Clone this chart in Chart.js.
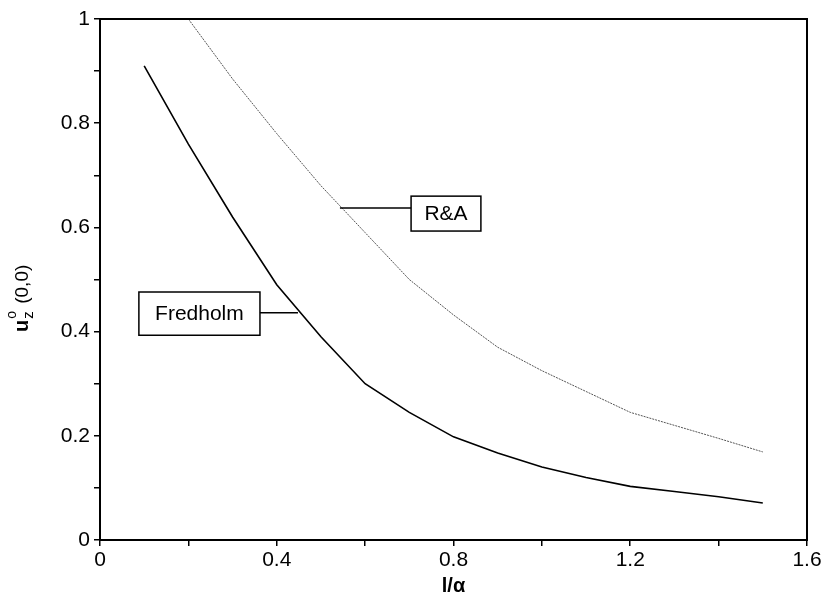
<!DOCTYPE html>
<html>
<head>
<meta charset="utf-8">
<script src="https://cdn.jsdelivr.net/npm/chart.js@4.4.1/dist/chart.umd.min.js"></script>
<style>
  html, body { margin: 0; padding: 0; background: #fff; }
  #wrap { width: 828px; height: 598px; }
</style>
</head>
<body>
<div id="wrap"><canvas id="plot"></canvas></div>
<script>
// values
const fredholmX = [0.1, 0.2, 0.3, 0.4, 0.5, 0.6, 0.7, 0.8, 0.9, 1.0, 1.1, 1.2, 1.3, 1.4, 1.5];
const fredholmY = [0.91, 0.76, 0.62, 0.49, 0.39, 0.30, 0.245, 0.198, 0.167, 0.14, 0.12, 0.103, 0.093, 0.083, 0.071];
const raX = [0.2, 0.3, 0.4, 0.5, 0.6, 0.7, 0.8, 0.9, 1.0, 1.1, 1.2, 1.3, 1.4, 1.5];
const raY = [1.0, 0.885, 0.78, 0.68, 0.59, 0.50, 0.432, 0.37, 0.325, 0.285, 0.245, 0.22, 0.195, 0.169];
const xTickLabels = [0, 0.4, 0.8, 1.2, 1.6];
const yTickLabels = [0, 0.2, 0.4, 0.6, 0.8, 1];

const FONT = "'Liberation Sans', Arial, Helvetica, sans-serif";

// label boxes (in data units) with their leader lines
const callouts = [
    { text: 'R&A', box: [0.704, 0.660, 0.862, 0.593], leader: [0.543, 0.637, 0.704, 0.637] },
    { text: 'Fredholm', box: [0.088, 0.476, 0.362, 0.393], leader: [0.362, 0.436, 0.448, 0.436] }
];

const toPts = (xs, ys) => xs.map((x, i) => ({ x: x, y: ys[i] }));

const decor = {
    id: 'decor',
    afterDraw(chart) {
        const ctx = chart.ctx;
        const a = chart.chartArea;
        const xs = chart.scales.x, ys = chart.scales.y;
        ctx.save();
        // frame
        ctx.strokeStyle = '#000';
        ctx.lineWidth = 2;
        ctx.strokeRect(a.left, a.top, a.right - a.left, a.bottom - a.top);

        // callouts
        ctx.lineWidth = 1.5;
        ctx.font = '21px ' + FONT;
        ctx.fillStyle = '#000';
        ctx.textAlign = 'center';
        ctx.textBaseline = 'middle';
        callouts.forEach(c => {
            const x0 = xs.getPixelForValue(c.box[0]), y0 = ys.getPixelForValue(c.box[1]);
            const x1 = xs.getPixelForValue(c.box[2]), y1 = ys.getPixelForValue(c.box[3]);
            ctx.fillStyle = '#fff';
            ctx.fillRect(x0, y0, x1 - x0, y1 - y0);
            ctx.strokeRect(x0, y0, x1 - x0, y1 - y0);
            ctx.fillStyle = '#000';
            ctx.fillText(c.text, (x0 + x1) / 2, (y0 + y1) / 2 + 1);
            ctx.beginPath();
            ctx.moveTo(xs.getPixelForValue(c.leader[0]), ys.getPixelForValue(c.leader[1]));
            ctx.lineTo(xs.getPixelForValue(c.leader[2]), ys.getPixelForValue(c.leader[3]));
            ctx.stroke();
        });

        // y axis title: u with sub z and sup o, then (0,0)
        ctx.translate(28, 332);
        ctx.rotate(-Math.PI / 2);
        ctx.textAlign = 'left';
        ctx.textBaseline = 'alphabetic';
        ctx.font = 'bold 20px ' + FONT;
        ctx.fillText('u', 0, 0);
        const uw = ctx.measureText('u').width;
        ctx.font = '15px ' + FONT;
        ctx.fillText('z', uw + 1, 5);
        ctx.font = '14px ' + FONT;
        ctx.fillText('o', uw + 1, -12);
        ctx.font = '19px ' + FONT;
        ctx.fillText('(0,0)', uw + 16, 0);
        ctx.restore();
    }
};

new Chart(document.getElementById('plot'), {
    type: 'line',
    data: {
        datasets: [
            {
                label: 'Fredholm',
                data: toPts(fredholmX, fredholmY),
                borderColor: '#000',
                borderWidth: 1.6,
                pointRadius: 0,
                tension: 0
            },
            {
                label: 'R&A',
                data: toPts(raX, raY),
                borderColor: '#555',
                borderWidth: 1,
                borderDash: [2, 1],
                pointRadius: 0,
                tension: 0
            }
        ]
    },
    options: {
        responsive: true,
        maintainAspectRatio: false,
        animation: false,
        layout: { padding: { left: 0, right: 21, top: 19, bottom: 0 } },
        plugins: { legend: { display: false }, tooltip: { enabled: false } },
        scales: {
            x: {
                type: 'linear',
                min: 0,
                max: 1.6,
                grid: { drawOnChartArea: false, color: '#000', lineWidth: 1.5, tickLength: 6 },
                border: { display: true, color: '#000', width: 2 },
                ticks: {
                    stepSize: 0.2,
                    autoSkip: false,
                    maxRotation: 0,
                    padding: 2,
                    color: '#000',
                    font: { family: FONT, size: 21 },
                    callback: v => {
                        const hit = xTickLabels.find(t => Math.abs(t - v) < 1e-6);
                        return hit === undefined ? '' : String(hit);
                    }
                },
                title: {
                    display: true,
                    text: 'l/α',
                    color: '#000',
                    font: { family: FONT, size: 20, weight: 'bold' },
                    padding: { top: 0, bottom: 0 }
                },
                afterFit: s => { s.height = 58; }
            },
            y: {
                type: 'linear',
                min: 0,
                max: 1,
                grid: { drawOnChartArea: false, color: '#000', lineWidth: 1.5, tickLength: 6 },
                border: { display: true, color: '#000', width: 2 },
                ticks: {
                    stepSize: 0.1,
                    autoSkip: false,
                    padding: 4,
                    color: '#000',
                    font: { family: FONT, size: 21 },
                    callback: v => {
                        const hit = yTickLabels.find(t => Math.abs(t - v) < 1e-6);
                        return hit === undefined ? '' : String(hit);
                    }
                },
                afterFit: s => { s.width = 100; }
            }
        }
    },
    plugins: [decor]
});
</script>
</body>
</html>
